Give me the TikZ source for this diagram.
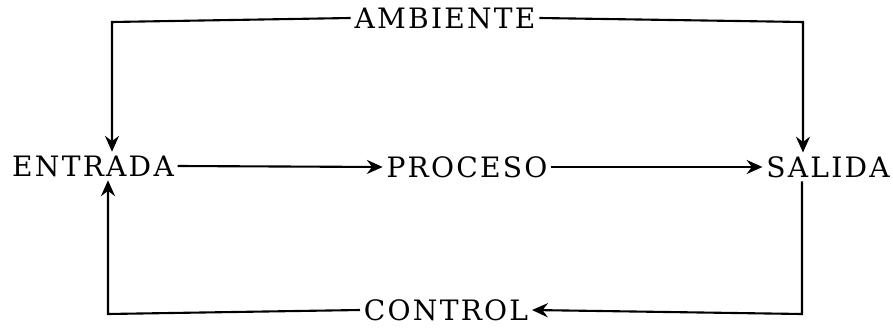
\documentclass[tikz,border=0pt]{standalone}
\usepackage{fontspec}
\newfontfamily\rotulo[LetterSpace=8]{DejaVu Serif}
\usetikzlibrary{arrows.meta}
\tikzset{
    etiqueta/.style={inner sep=2pt, font=\rotulo\fontsize{16}{19}\selectfont},
    flujo/.style={line width=1.2pt, -{Stealth[length=9pt,width=8pt,inset=3pt]}},
    linea/.style={line width=1.2pt}
}
\begin{document}
\begin{tikzpicture}[x=0.02cm, y=-0.02cm]
    \useasboundingbox (0,0) rectangle (893,328);
    % bloques principales
    \node[etiqueta] (entrada) at (93,166) {ENTRADA};
    \node[etiqueta] (proceso) at (467,167) {PROCESO};
    \node[etiqueta] (salida) at (828,167) {SALIDA};
    \node[etiqueta] (ambiente) at (445,18) {AMBIENTE};
    \node[etiqueta] (control) at (446,310) {CONTROL};

    % esquinas
    \coordinate (esqTI) at (112,22);
    \coordinate (esqTD) at (803,22);
    \coordinate (esqBD) at (802,314);
    \coordinate (esqBI) at (108,314);

    % flujo central
    \draw[flujo] (entrada.east) -- (proceso.west);
    \draw[flujo] (proceso.east) -- (salida.west);

    % ambiente
    \draw[flujo] (ambiente.west) -- (esqTI) -- (esqTI |- entrada.north);
    \draw[flujo] (ambiente.east) -- (esqTD) -- (esqTD |- salida.north);

    % control (retroalimentacion)
    \draw[flujo] (esqBD |- salida.south) -- (esqBD) -- (control.east);
    \draw[flujo] (control.west) -- (esqBI) -- (esqBI |- entrada.south);
\end{tikzpicture}
\end{document}
